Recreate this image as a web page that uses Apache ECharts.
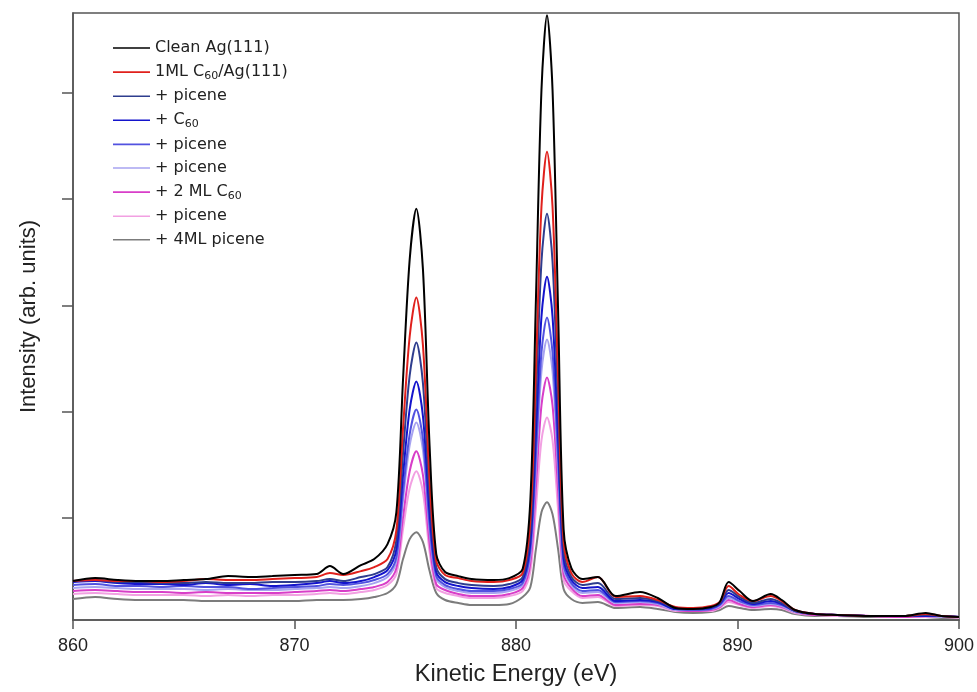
<!DOCTYPE html>
<html>
<head>
<meta charset="utf-8">
<script src="https://cdn.jsdelivr.net/npm/echarts@6/dist/echarts.min.js"></script>
<style>
  html, body { margin: 0; padding: 0; background: #fff; }
  #chart { width: 977px; height: 692px; }
</style>
</head>
<body>
<div id="chart"></div>
<script>
// Kinetic energy grid (eV) shared by all spectra
const energy = [
  860, 861, 862, 863, 864, 865, 866, 867, 868, 869,
  870, 871, 871.6, 872.2, 873, 873.6, 874.2, 874.6, 874.9, 875.2,
  875.5, 875.8, 876.1, 876.4, 876.8, 877.4, 878, 879, 879.7, 880.3,
  880.65, 880.9, 881.15, 881.4, 881.65, 881.9, 882.15, 882.5, 883, 883.7,
  884.5, 885.6, 886.4, 887.2, 888, 888.8, 889.2, 889.6, 890.1, 890.7,
  891.5, 892, 892.6, 893.5, 894.5, 896, 897.5, 898.5, 899.2, 900
];

// Intensities (arb. units) for each deposition step
const cleanAg = [
  4.06, 4.34, 4.16, 4.06, 4.06, 4.16, 4.25, 4.53, 4.44, 4.53,
  4.63, 4.72, 5.47, 4.72, 5.56, 6.13, 7.54, 10.54, 23.03, 34.30,
  39.09, 33.36, 16.74, 6.60, 4.91, 4.53, 4.25, 4.16, 4.34, 5.19,
  11.76, 30.54, 50.26, 57.30, 50.26, 29.60, 8.94, 5.28, 4.25, 4.44,
  2.65, 3.03, 2.47, 1.53, 1.43, 1.62, 2.09, 3.97, 3.12, 2.18,
  2.84, 2.28, 1.34, 0.96, 0.87, 0.78, 0.78, 1.06, 0.78, 0.68
];
const oneMLC60 = [
  4.06, 4.16, 4.06, 4.06, 3.97, 4.06, 4.25, 4.16, 4.16, 4.25,
  4.34, 4.44, 4.81, 4.63, 5.00, 5.38, 6.13, 8.85, 18.43, 27.07,
  30.73, 26.22, 13.55, 5.94, 4.63, 4.34, 4.06, 3.97, 4.16, 4.81,
  9.88, 24.06, 39.27, 44.44, 39.27, 23.40, 7.82, 4.81, 3.97, 4.44,
  2.56, 2.65, 2.28, 1.62, 1.53, 1.71, 2.09, 3.59, 2.75, 2.18,
  2.65, 2.18, 1.34, 0.96, 0.87, 0.78, 0.78, 0.96, 0.78, 0.68
];
const picene1 = [
  4.06, 4.16, 3.97, 3.97, 3.87, 3.87, 3.97, 3.87, 3.87, 3.97,
  3.97, 4.06, 4.25, 4.06, 4.44, 4.72, 5.38, 7.91, 16.08, 23.40,
  26.50, 22.65, 11.95, 5.38, 4.25, 3.87, 3.69, 3.59, 3.78, 4.44,
  8.76, 20.96, 34.11, 38.62, 34.11, 20.49, 6.97, 4.44, 3.69, 3.87,
  2.37, 2.47, 2.18, 1.53, 1.43, 1.62, 2.00, 3.22, 2.56, 2.00,
  2.37, 2.00, 1.25, 0.96, 0.87, 0.78, 0.78, 0.87, 0.78, 0.68
];
const c60Step = [
  3.97, 4.06, 3.87, 3.78, 3.78, 3.69, 3.87, 3.69, 3.78, 3.59,
  3.69, 3.87, 4.06, 3.87, 4.06, 4.44, 5.09, 7.07, 14.02, 20.21,
  22.84, 19.55, 10.45, 4.91, 3.97, 3.59, 3.40, 3.31, 3.50, 4.16,
  7.72, 17.96, 28.94, 32.70, 28.94, 17.49, 6.22, 4.16, 3.40, 3.50,
  2.18, 2.28, 2.09, 1.43, 1.43, 1.53, 1.90, 2.94, 2.37, 1.90,
  2.18, 1.90, 1.25, 0.96, 0.87, 0.78, 0.78, 0.78, 0.78, 0.68
];
const picene2 = [
  3.69, 3.78, 3.59, 3.59, 3.50, 3.59, 3.50, 3.50, 3.31, 3.40,
  3.50, 3.59, 3.78, 3.69, 3.87, 4.16, 4.72, 6.32, 12.42, 17.86,
  20.21, 17.40, 9.32, 4.53, 3.69, 3.31, 3.12, 3.12, 3.31, 3.87,
  6.97, 15.89, 25.56, 28.85, 25.56, 15.52, 5.66, 3.87, 3.12, 3.22,
  2.09, 2.18, 2.00, 1.43, 1.34, 1.43, 1.81, 2.65, 2.18, 1.81,
  2.00, 1.81, 1.25, 0.96, 0.87, 0.78, 0.78, 0.78, 0.78, 0.68
];
const picene3 = [
  3.40, 3.50, 3.40, 3.31, 3.31, 3.31, 3.22, 3.31, 3.22, 3.22,
  3.31, 3.40, 3.50, 3.40, 3.59, 3.87, 4.44, 5.94, 11.67, 16.83,
  18.99, 16.36, 8.76, 4.25, 3.50, 3.12, 2.94, 2.94, 3.12, 3.69,
  6.50, 14.86, 23.78, 26.78, 23.78, 14.48, 5.28, 3.69, 2.94, 3.03,
  2.00, 2.09, 1.90, 1.34, 1.34, 1.43, 1.71, 2.47, 2.09, 1.71,
  1.90, 1.71, 1.15, 0.96, 0.87, 0.78, 0.78, 0.78, 0.68, 0.68
];
const twoMLC60 = [
  3.12, 3.22, 3.12, 3.03, 3.03, 2.94, 3.03, 2.94, 2.94, 2.94,
  3.03, 3.12, 3.22, 3.12, 3.31, 3.50, 3.97, 5.28, 10.07, 14.39,
  16.27, 14.02, 7.63, 3.78, 3.22, 2.84, 2.65, 2.65, 2.84, 3.40,
  5.75, 12.89, 20.59, 23.22, 20.59, 12.61, 4.72, 3.40, 2.65, 2.75,
  1.81, 1.90, 1.81, 1.34, 1.25, 1.34, 1.62, 2.28, 1.90, 1.62,
  1.81, 1.62, 1.15, 0.87, 0.87, 0.78, 0.68, 0.78, 0.68, 0.68
];
const picene4 = [
  2.84, 2.94, 2.84, 2.75, 2.75, 2.75, 2.65, 2.75, 2.65, 2.75,
  2.75, 2.84, 2.94, 2.84, 3.03, 3.22, 3.69, 4.72, 8.94, 12.79,
  14.39, 12.42, 6.78, 3.40, 2.94, 2.65, 2.47, 2.47, 2.65, 3.12,
  5.00, 10.92, 17.30, 19.46, 17.30, 10.73, 4.16, 3.12, 2.47, 2.56,
  1.71, 1.81, 1.71, 1.25, 1.25, 1.25, 1.53, 2.09, 1.81, 1.53,
  1.71, 1.53, 1.06, 0.87, 0.78, 0.78, 0.68, 0.68, 0.68, 0.59
];
const fourMLPicene = [
  2.37, 2.56, 2.37, 2.28, 2.28, 2.28, 2.18, 2.18, 2.18, 2.18,
  2.18, 2.28, 2.28, 2.28, 2.37, 2.56, 2.94, 3.78, 6.13, 8.01,
  8.66, 7.72, 5.00, 2.94, 2.28, 2.00, 1.81, 1.81, 1.90, 2.56,
  3.50, 7.07, 10.54, 11.48, 10.35, 7.07, 3.31, 2.37, 2.00, 2.09,
  1.53, 1.62, 1.43, 1.15, 1.06, 1.15, 1.34, 1.71, 1.53, 1.34,
  1.43, 1.34, 0.96, 0.78, 0.78, 0.68, 0.68, 0.68, 0.59, 0.59
];

// Legend entries (rich-text markup for the C60 subscripts)
const legendLabels = [
  '{t|Clean Ag(111)}',
  '{t|1ML C}{s|60}{t|/Ag(111)}',
  '{t|+ picene}',
  '{t|+ C}{s|60}',
  '{t|+ picene}',
  '{t|+ picene}',
  '{t|+ 2 ML C}{s|60}',
  '{t|+ picene}',
  '{t|+ 4ML picene}'
];
const spectra = [cleanAg, oneMLC60, picene1, c60Step, picene2, picene3, twoMLC60, picene4, fourMLPicene];
const colors = ['#000000', '#e0201c', '#2e3d8e', '#1414cc', '#5252e0', '#a7a3f0', '#d83ec8', '#f2a0e2', '#7c7c7c'];
const yTicks = [10, 20, 30, 40, 50];

const FONT = '"Liberation Sans", Arial, sans-serif';
const LEGEND_FONT = '"DejaVu Sans", sans-serif';

const series = spectra.map((vals, i) => ({
  name: 'spec' + i,
  type: 'line',
  data: energy.map((e, k) => [e, vals[k]]),
  symbol: 'none',
  smooth: 0.3,
  // earlier (upper) traces are painted above the later ones
  z: 2 + (spectra.length - i),
  lineStyle: { color: colors[i], width: 2 },
  itemStyle: { color: colors[i] },
  emphasis: { disabled: true }
}));

const chart = echarts.init(document.getElementById('chart'), null, { renderer: 'canvas' });
chart.setOption({
  animation: false,
  backgroundColor: '#ffffff',
  grid: {
    left: 73, right: 17, top: 13, bottom: 71,
    show: true, borderColor: '#555', borderWidth: 1.5, backgroundColor: 'transparent'
  },
  legend: {
    left: 113, top: 39,
    padding: 0,
    orient: 'vertical',
    icon: 'rect',
    itemWidth: 37, itemHeight: 1.6, itemGap: 5.6,
    data: series.map(s => s.name),
    formatter: name => legendLabels[+name.slice(4)],
    textStyle: {
      fontFamily: LEGEND_FONT, fontSize: 16, color: '#222', lineHeight: 18,
      rich: {
        t: { fontFamily: LEGEND_FONT, fontSize: 16, color: '#222', lineHeight: 18 },
        s: { fontFamily: LEGEND_FONT, fontSize: 11, color: '#222', lineHeight: 10, padding: [8, 0, 0, 0] }
      }
    }
  },
  xAxis: {
    type: 'value',
    min: 860, max: 900, interval: 10,
    name: 'Kinetic Energy (eV)',
    nameLocation: 'middle',
    nameGap: 43,
    nameTextStyle: { fontFamily: FONT, fontSize: 23.5, color: '#222' },
    axisLine: { show: true, lineStyle: { color: '#555', width: 1.5 } },
    axisTick: { show: true, length: 9, lineStyle: { color: '#555', width: 1.5 } },
    axisLabel: { fontFamily: FONT, fontSize: 18, color: '#222', margin: 17 },
    splitLine: { show: false }
  },
  yAxis: {
    type: 'value',
    min: 0.4, max: 57.5,
    name: 'Intensity (arb. units)',
    nameLocation: 'middle',
    nameGap: 33,
    nameRotate: 90,
    nameTextStyle: { fontFamily: FONT, fontSize: 22, color: '#222' },
    axisLine: { show: true, lineStyle: { color: '#555', width: 1.5 } },
    axisTick: { show: true, length: 11, customValues: yTicks, lineStyle: { color: '#555', width: 1.5 } },
    axisLabel: { show: false, customValues: yTicks },
    splitLine: { show: false }
  },
  series: series
});
</script>
</body>
</html>
